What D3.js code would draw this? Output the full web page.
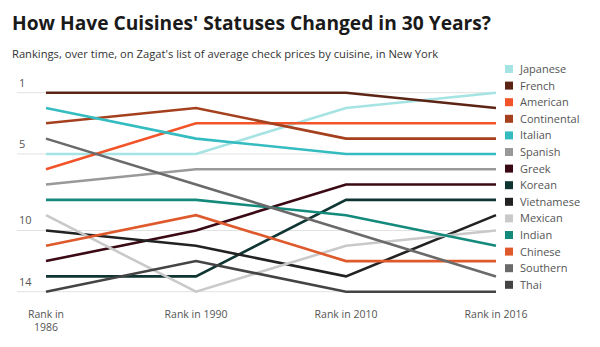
<!DOCTYPE html>
<html><head><meta charset="utf-8">
<script src="https://cdn.jsdelivr.net/npm/d3@7"></script>
<style>
body{margin:0;background:#fff;}
svg{display:block;font-family:"Open Sans",sans-serif;}
</style></head>
<body><svg id="c" width="600" height="347"></svg>
<script>
const years = ["Rank in 1986","Rank in 1990","Rank in 2010","Rank in 2016"];
const cuisines = ["Japanese","French","American","Continental","Italian","Spanish","Greek","Korean","Vietnamese","Mexican","Indian","Chinese","Southern","Thai"];
const colors = ["#a6e3e3","#5c2414","#f2542a","#a5401e","#35bcc1","#999999","#3a0914","#0e3532","#222222","#c9c9c9","#148a7c","#de5a2c","#6a6a6a","#444444"];
const japanese = [5,5,2,1];
const french = [1,1,1,2];
const american = [6,3,3,3];
const continental = [3,2,4,4];
const italian = [2,4,5,5];
const spanish = [7,6,6,6];
const greek = [12,10,7,7];
const korean = [13,13,8,8];
const vietnamese = [10,11,13,9];
const mexican = [9,14,11,10];
const indian = [8,8,9,11];
const chinese = [11,9,12,12];
const southern = [4,7,10,13];
const thai = [14,12,14,14];
const rankTicks = [1,5,10,14];

const series = [japanese,french,american,continental,italian,spanish,greek,korean,vietnamese,mexican,indian,chinese,southern,thai];

const svg = d3.select("#c");
svg.append("text").attr("x",12).attr("y",30).attr("font-size",19.2).attr("font-weight",700).attr("fill","#1a1a1a")
  .text("How Have Cuisines' Statuses Changed in 30 Years?");
svg.append("text").attr("x",12).attr("y",58).attr("font-size",11.2).attr("fill","#333")
  .text("Rankings, over time, on Zagat's list of average check prices by cuisine, in New York");

const x = d3.scalePoint().domain(years).range([46,496]);
const y = d3.scaleLinear().domain([1,14]).range([92.7,291.7]);

const grid = svg.append("g");
rankTicks.forEach(t=>{
  grid.append("line").attr("x1",17).attr("x2",496).attr("y1",y(t)).attr("y2",y(t)).attr("stroke","#e2e2e2").attr("stroke-width",1);
  grid.append("text").attr("x",19).attr("y",y(t)-6).attr("font-size",11).attr("fill","#555").text(t);
});

const line = d3.line().x((d,i)=>x(years[i])).y(d=>y(d));
const g = svg.append("g");
series.forEach((s,i)=>{
  g.append("path").attr("d",line(s)).attr("fill","none").attr("stroke",colors[i]).attr("stroke-width",2.6);
});

const xa = svg.append("g");
years.forEach((yr,i)=>{
  const t = xa.append("text").attr("x",x(yr)).attr("y",318).attr("text-anchor","middle").attr("font-size",10.5).attr("fill","#555");
  if(i===0){
    t.append("tspan").attr("x",x(yr)).text("Rank in");
    t.append("tspan").attr("x",x(yr)).attr("dy",13).text("1986");
  } else t.text(yr);
});

const lg = svg.append("g");
cuisines.forEach((c,i)=>{
  const yy = 69 + i*16.6;
  lg.append("rect").attr("x",505).attr("y",yy-4).attr("width",8).attr("height",8).attr("fill",colors[i]);
  lg.append("text").attr("x",520).attr("y",yy+4).attr("font-size",11).attr("fill","#555").text(c);
});
</script></body></html>
